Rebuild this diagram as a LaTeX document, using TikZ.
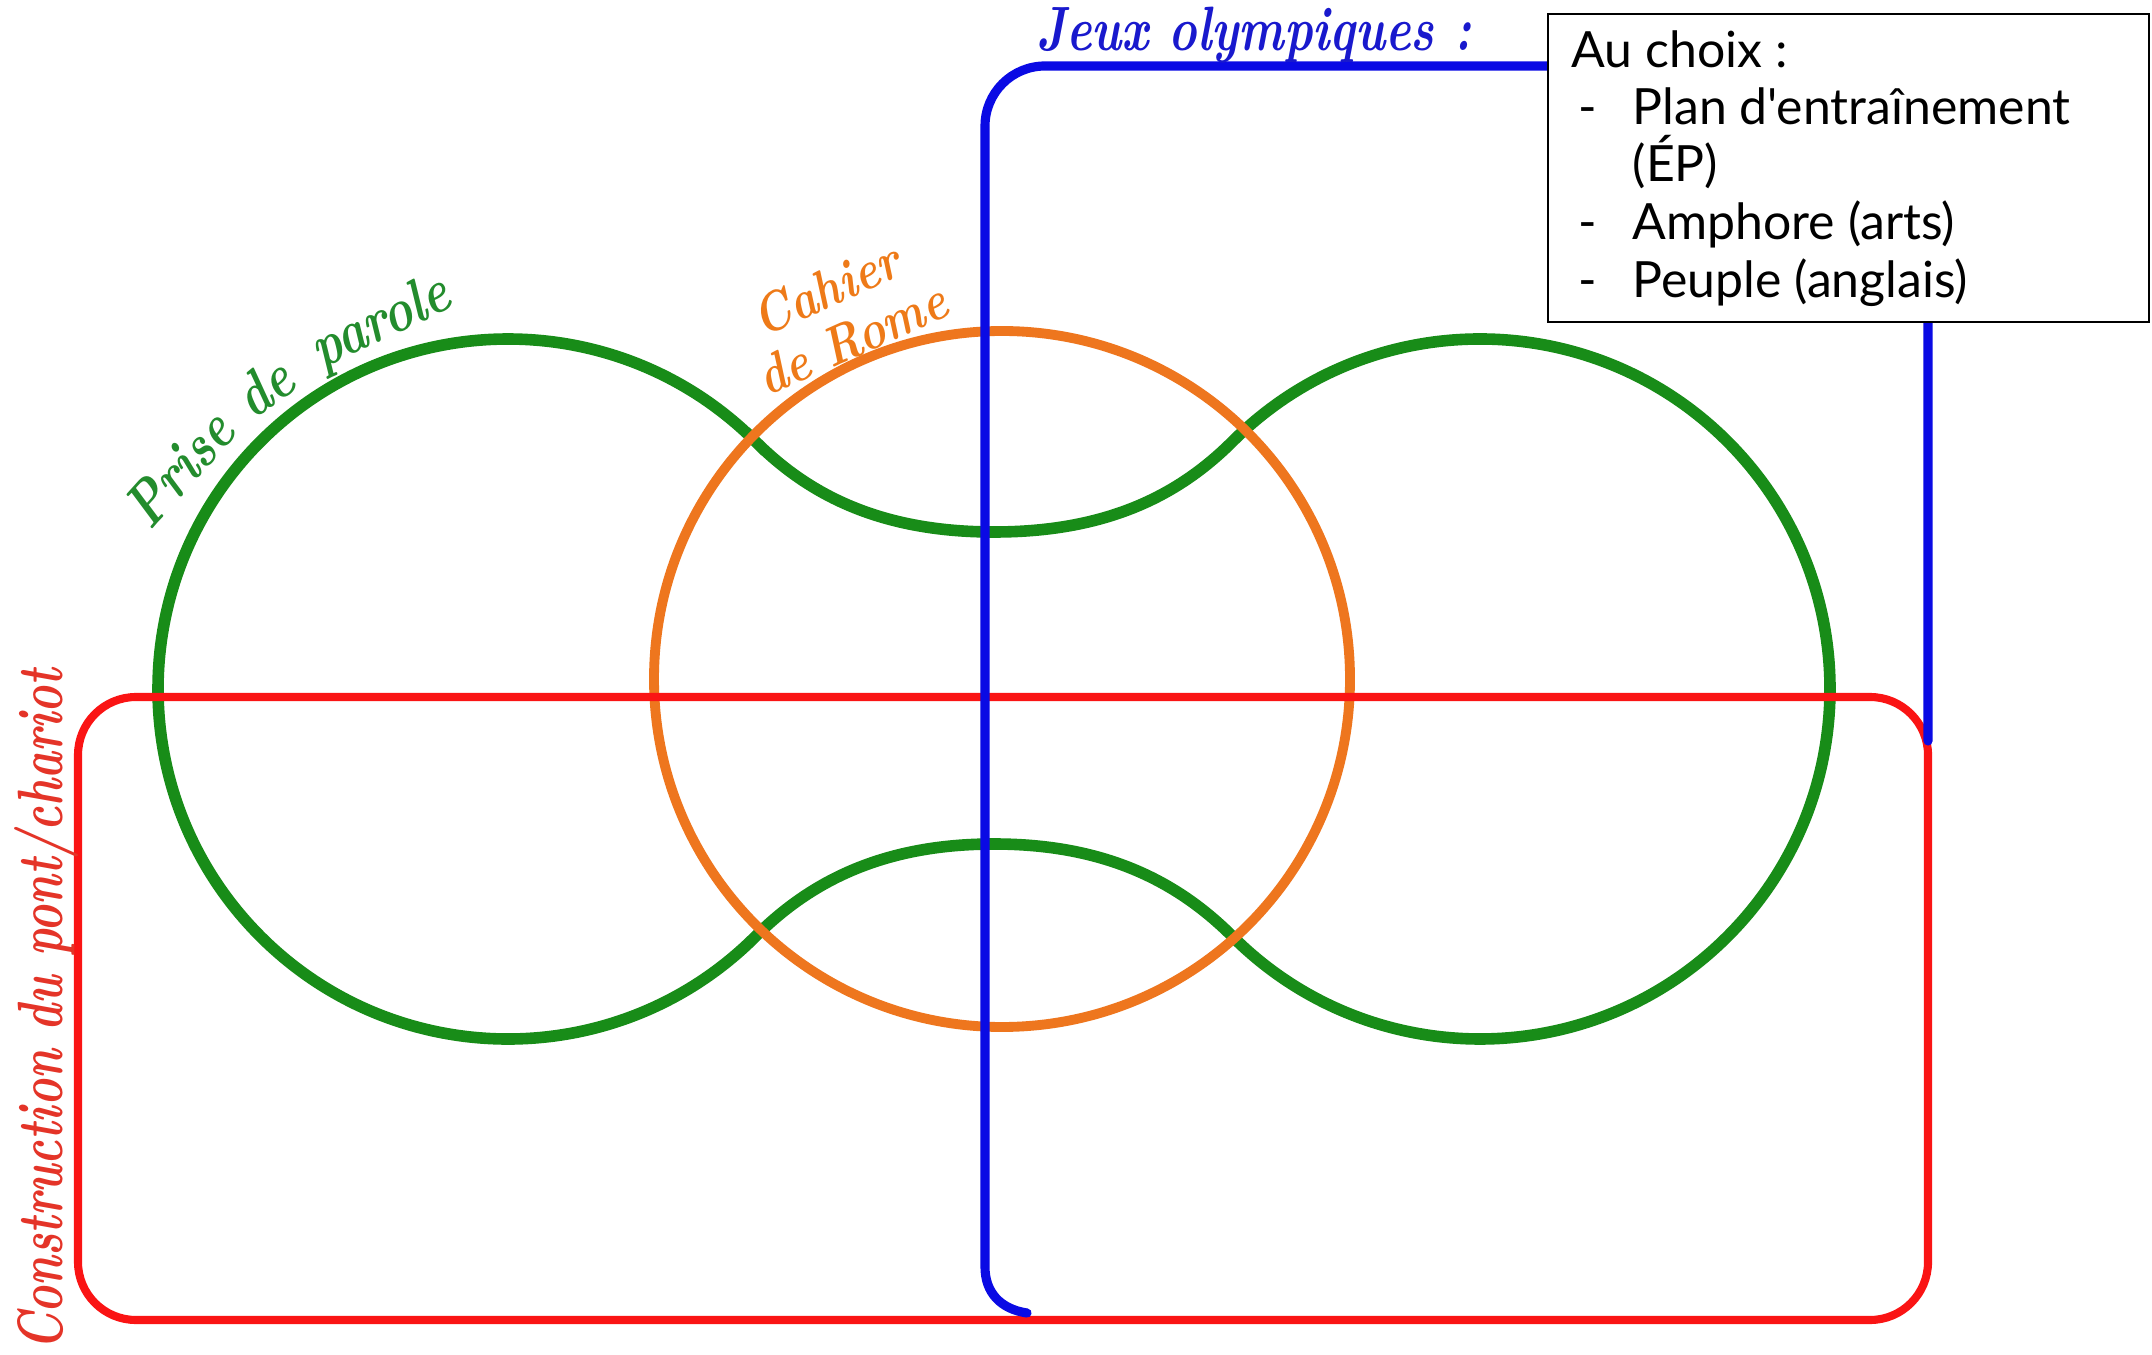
\documentclass[tikz,border=0pt]{standalone}
\usepackage{fontspec}
\usepackage{graphicx}
\newfontfamily\boxfont{Lato}
\definecolor{cgreen}{RGB}{24,140,24}
\definecolor{corange}{RGB}{238,118,30}
\definecolor{cred}{RGB}{250,20,20}
\definecolor{cblue}{RGB}{10,10,228}
\definecolor{lgreen}{RGB}{35,140,45}
\definecolor{lorange}{RGB}{238,122,24}
\definecolor{lred}{RGB}{228,52,40}
\definecolor{lblue}{RGB}{25,25,205}
\begin{document}
\begin{tikzpicture}[x=0.01cm,y=0.01cm,
  greenline/.style={draw=cgreen,line width=3.3pt},
  orangeline/.style={draw=corange,line width=2.8pt},
  redline/.style={draw=cred,line width=2.3pt},
  blueline/.style={draw=cblue,line width=2.6pt,line cap=round},
  hand/.style={font=\fontsize{14}{16}\selectfont\bfseries\itshape,inner sep=0pt},
  greenhand/.style={hand,text=lgreen,anchor=base,font=\fontsize{14}{16}\selectfont\bfseries\itshape},
  boxtext/.style={font=\boxfont\fontsize{14.2}{16}\selectfont,anchor=base west,inner sep=0pt},
  choicebox/.style={draw=black,fill=white,line width=0.6pt,minimum width=6.01cm,minimum height=3.08cm,inner sep=0pt}]
\useasboundingbox (0,0) rectangle (2152,1354);
\fill[white] (0,0) rectangle (2152,1354);
% green shape
\draw[greenline] (755.5,912.5) .. controls (812,856) and (885,822) .. (994,822)
  .. controls (1103,822) and (1176,856) .. (1232.5,912.5)
  arc[start angle=135,end angle=-135,radius=350]
  .. controls (1176,474) and (1103,510) .. (994,510)
  .. controls (885,510) and (812,474) .. (755.5,417.5)
  arc[start angle=-45,end angle=-315,radius=350] -- cycle;
% orange circle
\draw[orangeline] (1002,675) circle[radius=348];
% red rounded rectangle
\draw[redline,rounded corners=0.58cm] (78,34) rectangle (1928,657);
% blue path
\coordinate (bstart) at (1928,613);
\coordinate (bend) at (1027,41);
\draw[blueline] (bstart) -- (1928,1228) arc[start angle=0,end angle=90,radius=60]
  -- (1045,1288) arc[start angle=90,end angle=180,radius=60]
  -- (985,87) .. controls (985,62) and (1000,45) .. (bend);
% choice box
\node[choicebox] (box) at (1848.5,1186) {};
\node[boxtext] (t0) at (1571,1286) {Au choix :};
\node[boxtext] (d1) at (1578,1229) {-};
\node[boxtext] (t1) at (1632,1229) {Plan d'entraînement};
\node[boxtext] (t1b) at (1632,1172) {(ÉP)};
\node[boxtext] (d2) at (1578,1114) {-};
\node[boxtext] (t2) at (1632,1114) {Amphore (arts)};
\node[boxtext] (d3) at (1578,1056) {-};
\node[boxtext] (t3) at (1632,1056) {Peuple (anglais)};
% handwritten labels
\node[hand,text=lblue,anchor=base west,font=\fontsize{13.7}{16}\selectfont\bfseries\itshape] (jeux) at (1036,1303) {\scalebox{1}[1.3]{Jeux olympiques :}};
\node[greenhand,rotate=48] (prise) at (194,871) {\scalebox{1}[1.25]{Prise}};
\node[greenhand,rotate=36] (de) at (276,950) {\scalebox{1}[1.25]{de}};
\node[greenhand,rotate=25] (parole) at (388,1016) {\scalebox{1}[1.25]{parole}};
\node[hand,text=lorange,anchor=base west,rotate=24,font=\fontsize{13}{15}\selectfont\bfseries\itshape] (cahier) at (762,1016) {\scalebox{1}[1.2]{Cahier}};
\node[hand,text=lorange,anchor=base west,rotate=24,font=\fontsize{13}{15}\selectfont\bfseries\itshape] (rome) at (767,957) {\scalebox{1}[1.2]{de Rome}};
\node[hand,text=lred,anchor=base,rotate=90,font=\fontsize{13}{15}\selectfont\bfseries\itshape] (constr) at (63,344) {\scalebox{1}[1.4]{Construction du pont/chariot}};
\end{tikzpicture}
\end{document}
